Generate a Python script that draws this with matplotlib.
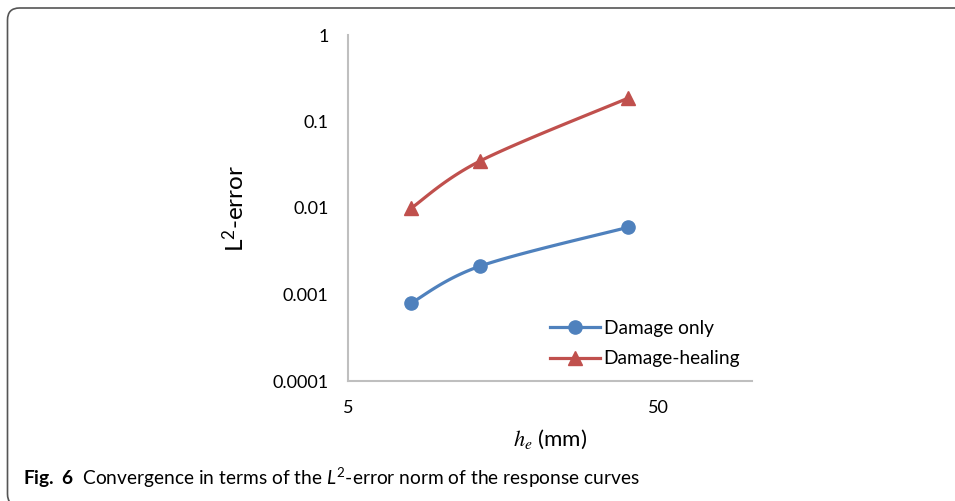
import numpy as np
import matplotlib
matplotlib.use("Agg")
import matplotlib.pyplot as plt
from matplotlib.patches import FancyBboxPatch

# data (log-log)
he = [8, 13.33, 40]
damage_only = [0.0008, 0.00213, 0.006]
damage_healing = [0.01, 0.035, 0.187]

series_names = ["Damage only", "Damage-healing"]
x_ticks = [5, 50]
y_ticks = [0.0001, 0.001, 0.01, 0.1, 1]
y_tick_labels = ["0.0001", "0.001", "0.01", "0.1", "1"]

blue = "#4F81BD"
red = "#C0504D"

plt.rcParams['font.family'] = ['Lato', 'DejaVu Sans']
plt.rcParams['mathtext.fontset'] = 'custom'
plt.rcParams['mathtext.rm'] = 'Lato'
plt.rcParams['mathtext.it'] = 'Lato:italic'
plt.rcParams['mathtext.bf'] = 'Lato:bold'


def smooth(x, y, n=40):
    # excel-like smoothed line: catmull-rom bezier in log space
    lx, ly = np.log10(x), np.log10(y)
    P = np.column_stack([lx, ly])
    out = []
    for i in range(len(P) - 1):
        p0 = P[i - 1] if i > 0 else P[i]
        p1, p2 = P[i], P[i + 1]
        p3 = P[i + 2] if i + 2 < len(P) else P[i + 1]
        c1 = p1 + (p2 - p0) / 6
        c2 = p2 - (p3 - p1) / 6
        t = np.linspace(0, 1, n)[:, None]
        seg = (1 - t) ** 3 * p1 + 3 * (1 - t) ** 2 * t * c1 + 3 * (1 - t) * t ** 2 * c2 + t ** 3 * p2
        out.append(seg)
    out = np.vstack(out)
    return 10 ** out[:, 0], 10 ** out[:, 1]


fig = plt.figure(figsize=(9.55, 5.01), dpi=100)
ax = fig.add_axes([348 / 955, 1 - 381 / 501, 404 / 955, 346 / 501])

for ys, c, m, ms, name in [(damage_only, blue, 'o', 9.5, series_names[0]),
                           (damage_healing, red, '^', 10, series_names[1])]:
    sx, sy = smooth(he, ys)
    ax.plot(sx, sy, color=c, lw=2.3, solid_capstyle='round')
    ax.plot(he, ys, ls='none', marker=m, ms=ms, color=c)
    ax.plot([], [], color=c, lw=2.3, marker=m, ms=ms, label=name)

ax.set_xscale('log')
ax.set_yscale('log')
ax.set_xlim(5, 100)
ax.set_ylim(0.0001, 1)
ax.set_xticks(x_ticks)
ax.set_xticklabels([str(v) for v in x_ticks])
ax.set_yticks(y_ticks)
ax.set_yticklabels(y_tick_labels)
ax.minorticks_off()
ax.tick_params(length=0, labelsize=13, pad=14, colors='black')

for s in ['top', 'right']:
    ax.spines[s].set_visible(False)
for s in ['left', 'bottom']:
    ax.spines[s].set_color('#BFBFBF')
    ax.spines[s].set_linewidth(1.5)

ax.set_ylabel(r"L$^2$-error", fontsize=17.5, labelpad=18)
ax.set_xlabel(r"$h_e$ (mm)", fontsize=16, labelpad=8, math_fontfamily='stix')

ax.legend(loc='center left', bbox_to_anchor=(0.5, 0.108), frameon=False,
          fontsize=13.8, borderpad=0, borderaxespad=0, handlelength=2.6,
          handletextpad=0.2, labelspacing=0.7)

# caption
fig.text(23 / 955, 1 - 478 / 501,
         r"$\mathbf{Fig.\ 6}$  Convergence in terms of the $L^2$-error norm of the response curves",
         fontsize=13.8, va='center', ha='left')

# rounded frame around the figure, bottom and right edges fall outside
frame = FancyBboxPatch((0.075, -0.05), 10, 4.98, boxstyle="round,pad=0,rounding_size=0.12",
                       transform=fig.dpi_scale_trans, fill=False, ec='#555555', lw=1.2)
fig.patches.append(frame)

fig.savefig("out.png", dpi=100)
